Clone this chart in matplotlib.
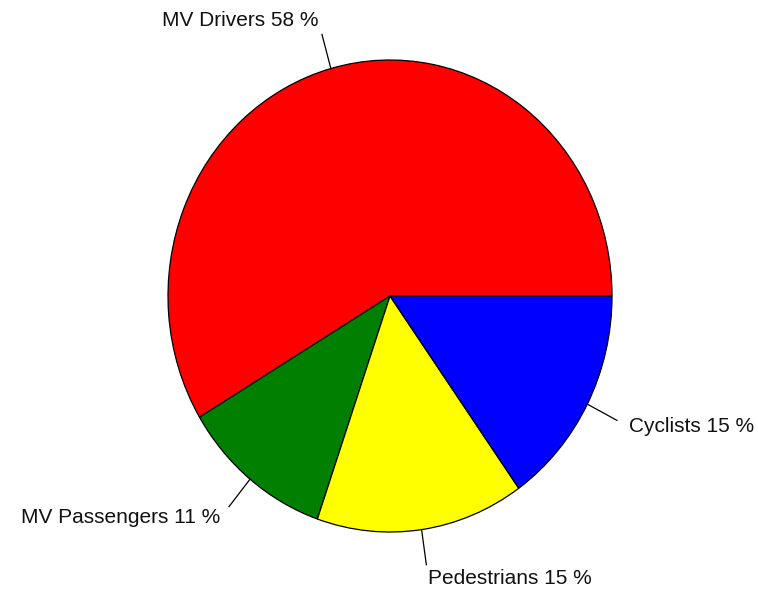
import matplotlib
matplotlib.use("Agg")
import matplotlib.pyplot as plt
import numpy as np

plt.rcParams["font.family"] = ["Liberation Sans", "DejaVu Sans"]

CATEGORIES = ["MV Drivers", "MV Passengers", "Pedestrians", "Cyclists"]
PERCENTS = [58, 11, 15, 15]
COLORS = ["#FF0000", "#007F00", "#FFFF00", "#0000FF"]

fig = plt.figure(figsize=(7.58, 5.93), dpi=100)
ax = fig.add_axes([0, 0, 1, 1])

wedges, _ = ax.pie(PERCENTS, colors=COLORS, startangle=0, counterclock=True,
                   wedgeprops=dict(edgecolor="black", linewidth=0.9))

for w, name, pct in zip(wedges, CATEGORIES, PERCENTS):
    mid = np.deg2rad((w.theta1 + w.theta2) / 2)
    c, s = np.cos(mid), np.sin(mid)
    ax.plot([c, 1.15 * c], [s, 1.15 * s], color="black", lw=0.9)
    ax.text(1.21 * c, 1.21 * s, f"{name} {pct} %",
            ha="left" if c > 0 else "right", va="center",
            fontsize=15, color="#111111")

ax.set_aspect("auto")
ax.set_xlim(-390 / 222, (758 - 390) / 222)
ax.set_ylim(-(593 - 296) / 236, 296 / 236)
ax.axis("off")

fig.savefig("out.png", dpi=100, facecolor="white")
